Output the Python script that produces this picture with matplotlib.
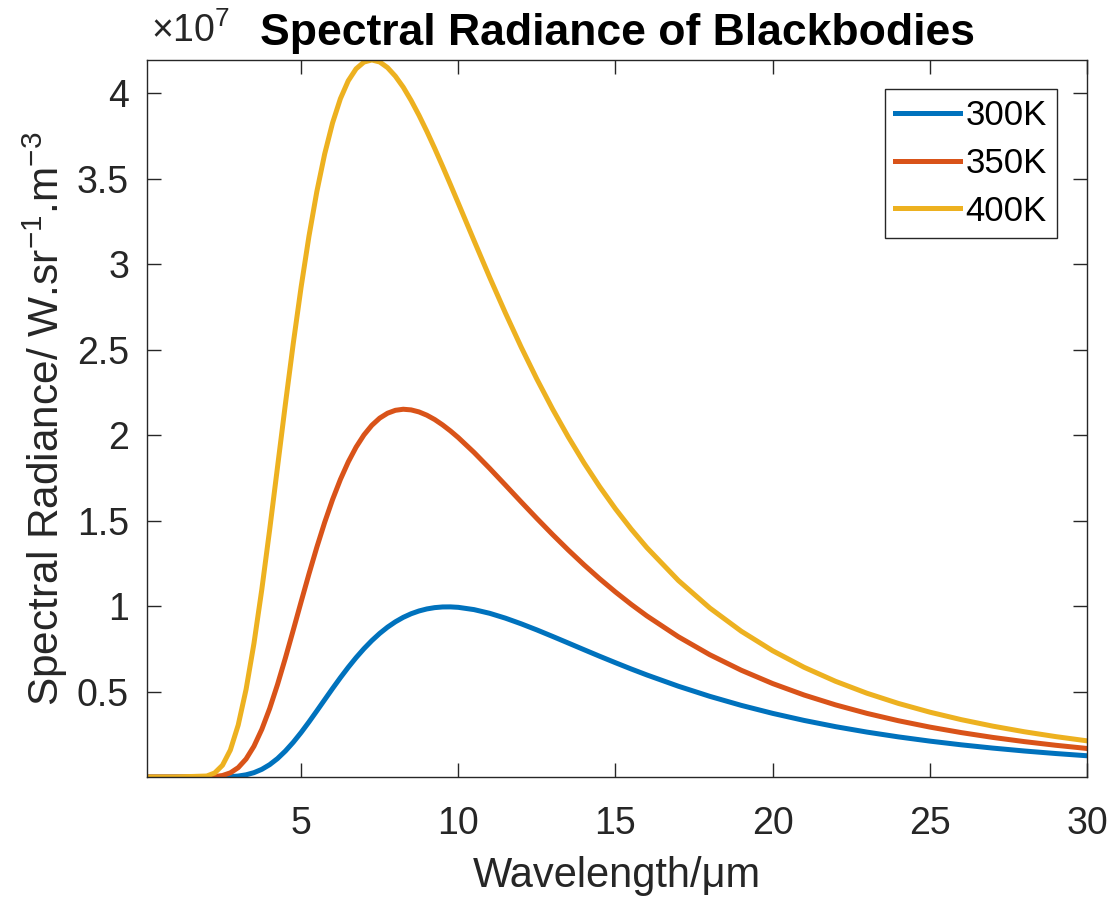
import matplotlib.pyplot as plt

plt.rcParams["font.family"] = ["Liberation Sans", "DejaVu Sans"]
plt.rcParams["mathtext.fontset"] = "custom"
plt.rcParams["mathtext.rm"] = "Liberation Sans"
plt.rcParams["mathtext.it"] = "Liberation Sans:italic"

# wavelength in um, radiance in units of 1e7 W.sr^-1.m^-3
wavelength = [0.1, 1, 2, 2.25, 2.5, 2.75, 3,
              3.25, 3.5, 3.75, 4, 4.25, 4.5, 4.75, 5,
              5.25, 5.5, 5.75, 6, 6.25, 6.5, 6.75, 7,
              7.25, 7.5, 7.75, 8, 8.25, 8.5, 8.75, 9,
              9.25, 9.5, 9.75, 10,
              10.5, 11, 11.5, 12, 12.5, 13, 13.5, 14, 14.5, 15, 15.5,
              16, 17, 18, 19, 20, 21, 22, 23, 24, 25, 26, 27, 28, 29, 30]
rad_300 = [0, 0, 0.0000143, 0.000114, 0.000569, 0.00202, 0.00559,
           0.01281, 0.0254, 0.04483, 0.0722, 0.10788, 0.1518, 0.20294, 0.2602,
           0.32192, 0.3865, 0.45212, 0.5174, 0.58094, 0.6415, 0.69828, 0.7505,
           0.7977, 0.8398, 0.87642, 0.9077, 0.93384, 0.9548, 0.97102, 0.9829,
           0.99059, 0.9945, 0.99492, 0.9923,
           0.979, 0.9573, 0.92895, 0.896, 0.86012, 0.8222, 0.78344, 0.7445, 0.70594, 0.6684, 0.63177,
           0.5967, 0.531, 0.4718, 0.419, 0.3722, 0.33086, 0.2945, 0.26262, 0.2346, 0.20991,
           0.1882, 0.16912, 0.1522, 0.13737, 0.1242]
rad_350 = [0, 0, 0.00044, 0.0024, 0.0088, 0.02438, 0.0549,
           0.10546, 0.1798, 0.27862, 0.4003, 0.541, 0.6958, 0.85883, 1.0245,
           1.1875, 1.3435, 1.48927, 1.6223, 1.74016, 1.8426, 1.92947, 2.0007,
           2.0569, 2.0989, 2.12761, 2.1446, 2.1508, 2.147, 2.13517, 2.116,
           2.09058, 2.0594, 2.02399, 1.985,
           1.89848, 1.8045, 1.70717, 1.6089, 1.51215, 1.4179, 1.32725, 1.2408, 1.15899, 1.082, 1.00963,
           0.942, 0.8203, 0.7151, 0.6245, 0.5465, 0.47946, 0.4218, 0.37207, 0.3291, 0.29193,
           0.2597, 0.23158, 0.2071, 0.18568, 0.1669]
rad_400 = [0, 0, 0.0058, 0.02355, 0.0688, 0.158, 0.3042,
           0.51252, 0.7805, 1.09647, 1.4464, 1.81307, 2.1805, 2.53468, 2.8647,
           3.16257, 3.4233, 3.64392, 3.825, 3.96703, 4.0718, 4.14185, 4.1813,
           4.1935, 4.1818, 4.14872, 4.0983, 4.03405, 3.9565, 3.87, 3.7759,
           3.67612, 3.5718, 3.46474, 3.356,
           3.13737, 2.9214, 2.71321, 2.5142, 2.32691, 2.1515, 1.98825, 1.8367, 1.69697, 1.5682, 1.44984,
           1.3411, 1.1495, 0.9885, 0.8527, 0.7384, 0.64161, 0.5597, 0.48985, 0.4303, 0.37926,
           0.3354, 0.29757, 0.2648, 0.23637, 0.2115]
labels = ["300K", "350K", "400K"]
colors = ["#0072BD", "#D95319", "#EDB120"]
xticks = [5, 10, 15, 20, 25, 30]
yticks = [0.5, 1, 1.5, 2, 2.5, 3, 3.5, 4]

dark = "#262626"
fig = plt.figure(figsize=(11.09, 8.99), dpi=100)
ax = fig.add_axes([0.1326, 0.1357, 0.8476, 0.7976])

for ys, lab, col in zip([rad_300, rad_350, rad_400], labels, colors):
    ax.plot(wavelength, ys, color=col, linewidth=3.6, label=lab, solid_joinstyle="round")

ax.set_xlim(wavelength[0], wavelength[-1])
ax.set_ylim(0, max(rad_400))
ax.set_xticks(xticks)
ax.set_yticks(yticks)
ax.set_yticklabels([f"{t:g}" for t in yticks])
ax.tick_params(direction="in", length=10, width=1, colors=dark, labelsize=27,
               top=True, right=True)
ax.tick_params(axis="y", pad=13)
ax.tick_params(axis="x", pad=21)
for sp in ax.spines.values():
    sp.set_color(dark)
    sp.set_linewidth(1)

ax.set_xlabel("Wavelength/\u03bcm", fontsize=30, color=dark, labelpad=10)
ax.set_ylabel(r"Spectral Radiance/ W.sr$^{-1}$.m$^{-3}$", fontsize=30.5, color=dark, labelpad=5)
ax.set_title("Spectral Radiance of Blackbodies", fontsize=32, fontweight="bold", pad=11)
ax.text(0.004, 1.014, "\u00d710$^{7}$", transform=ax.transAxes, fontsize=27,
        color=dark, ha="left", va="bottom")

leg = ax.legend(loc="upper right", bbox_to_anchor=(0.968, 0.9596), fontsize=25,
                handlelength=1.87, handletextpad=0.15, labelspacing=0.42,
                borderpad=0.3, fancybox=False, framealpha=1, borderaxespad=0)
leg.get_frame().set_edgecolor(dark)
leg.get_frame().set_linewidth(1)

plt.savefig("out.png", dpi=100)
